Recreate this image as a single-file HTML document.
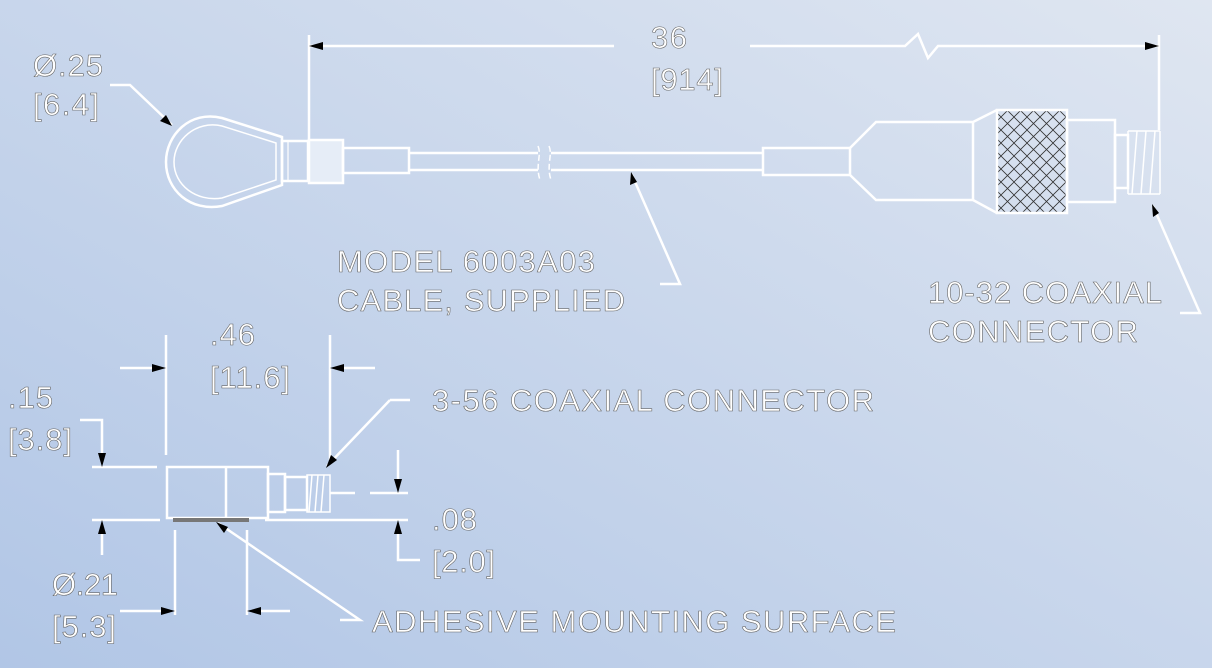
<!DOCTYPE html>
<html><head><meta charset="utf-8"><style>
html,body{margin:0;padding:0;width:1212px;height:668px;overflow:hidden}
svg{display:block}
text{font-family:"Liberation Sans",sans-serif;font-size:31px;fill:#fff;stroke:#666;stroke-width:0.6}
</style></head><body>
<svg width="1212" height="668" viewBox="0 0 1212 668" xmlns="http://www.w3.org/2000/svg">
<defs>
<linearGradient id="bg" x1="0" y1="1" x2="1" y2="0">
<stop offset="0" stop-color="#b1c6e6"/><stop offset="1" stop-color="#dfe6f1"/>
</linearGradient>
<pattern id="knurl" width="13" height="13" patternUnits="userSpaceOnUse">
<path d="M0 0L13 13M13 0L0 13" stroke="#333" stroke-width="0.8"/>
</pattern>
</defs>
<rect width="1212" height="668" fill="url(#bg)"/>
<g fill="none" stroke="#fff" stroke-width="2.5">
<path d="M309 35V140M1159 35V130M309 46H614M750 46H905L918 34L928 58L938 46H1159"/>
<path d="M282 137L222 118C190 110 166 135 166 162C166 190 190 212 222 206L282 185Z"/>
<path d="M276 143L222 126C196 120 174 140 174 162C174 185 196 202 222 198L276 180Z" stroke-width="1.5"/>
<rect x="282" y="141" width="26" height="40"/>
<line x1="288" y1="141" x2="288" y2="181" stroke-width="1.2"/>
<rect x="309" y="140" width="34" height="43" fill="#e6edf7"/>
<rect x="343" y="148" width="66" height="25"/>
<path d="M409 153H538M409 170H538M551 153H763M551 170H763"/>
<path d="M538 146C542 155 535 165 540 180M549 146C553 155 546 165 551 180" stroke-width="1.5" stroke-dasharray="6 3"/>
<rect x="763" y="148" width="87" height="27"/>
<path d="M850 148L876 122H973V200H876L850 175M973 122L997 110M973 200L997 213"/>
<rect x="997" y="110" width="70" height="103" fill="url(#knurl)"/>
<rect x="1067" y="120" width="48" height="82"/>
<rect x="1115" y="135" width="13" height="53"/>
<path d="M1128 131H1160M1128 194H1160M1128 131V194M1160 131V194M1137 131L1132 194M1146 131L1141 194M1155 131L1150 194" stroke-width="1.5"/>
<path d="M110 85H130L172 125"/>
<path d="M660 284H680L632 175"/>
<path d="M1180 313H1200L1153 206"/>
<rect x="167" y="467" width="101" height="51"/>
<line x1="226" y1="467" x2="226" y2="518"/>
<rect x="268" y="474" width="17" height="38"/>
<rect x="285" y="477" width="22" height="33"/>
<path d="M307 475H330V512H307ZM312 475L309 512M318 475L315 512M324 475L321 512" stroke-width="1.5"/>
<path d="M166 335V455M330 335V460M120 368H162M375 368H334"/>
<path d="M92 467H157M92 520H160M80 420H102V463M102 524V555"/>
<path d="M175 530V615M247 530V615M120 611H171M290 611H251"/>
<path d="M330 493H355M370 493H408M265 520H408M398 450V489M398 524V560H420"/>
<path d="M390 400H410M390 400L327 466"/>
<path d="M340 620H360L218 523"/>
</g>
<rect x="173" y="518" width="76" height="4" fill="#777"/>
<g fill="#000">
<path d="M309 46l14 -4v8z"/>
<path d="M1159 46l-14 -4v8z"/>
<path d="M172 126l-12 -5 6 -6z"/>
<path d="M631 172l-1 13 7 -3z"/>
<path d="M1152 204l1 13 6 -4z"/>
<path d="M166 368l-14 -4v8z"/>
<path d="M330 368l14 -4v8z"/>
<path d="M102 467l-4 -14h8z"/>
<path d="M102 520l-4 14h8z"/>
<path d="M175 611l-14 -4v8z"/>
<path d="M247 611l14 -4v8z"/>
<path d="M398 493l-4 -14h8z"/>
<path d="M398 520l-4 14h8z"/>
<path d="M326 468l5 -13 6 5z"/>
<path d="M216 522l8 11 4 -6z"/>
</g>
<text x="33" y="76" textLength="70">Ø.25</text>
<text x="33" y="115" textLength="66">[6.4]</text>
<text x="651" y="48" textLength="36">36</text>
<text x="651" y="90" textLength="72">[914]</text>
<text x="337" y="272" textLength="258">MODEL 6003A03</text>
<text x="337" y="311" textLength="288">CABLE, SUPPLIED</text>
<text x="928" y="303" textLength="234">10-32 COAXIAL</text>
<text x="928" y="342" textLength="210">CONNECTOR</text>
<text x="210" y="345" textLength="45">.46</text>
<text x="210" y="388" textLength="80">[11.6]</text>
<text x="8" y="408" textLength="45">.15</text>
<text x="8" y="450" textLength="64">[3.8]</text>
<text x="432" y="411" textLength="442">3-56 COAXIAL CONNECTOR</text>
<text x="432" y="530" textLength="45">.08</text>
<text x="432" y="572" textLength="63">[2.0]</text>
<text x="52" y="595" textLength="66">Ø.21</text>
<text x="52" y="637" textLength="64">[5.3]</text>
<text x="372" y="632" textLength="524">ADHESIVE MOUNTING SURFACE</text>
</svg>
</body></html>
